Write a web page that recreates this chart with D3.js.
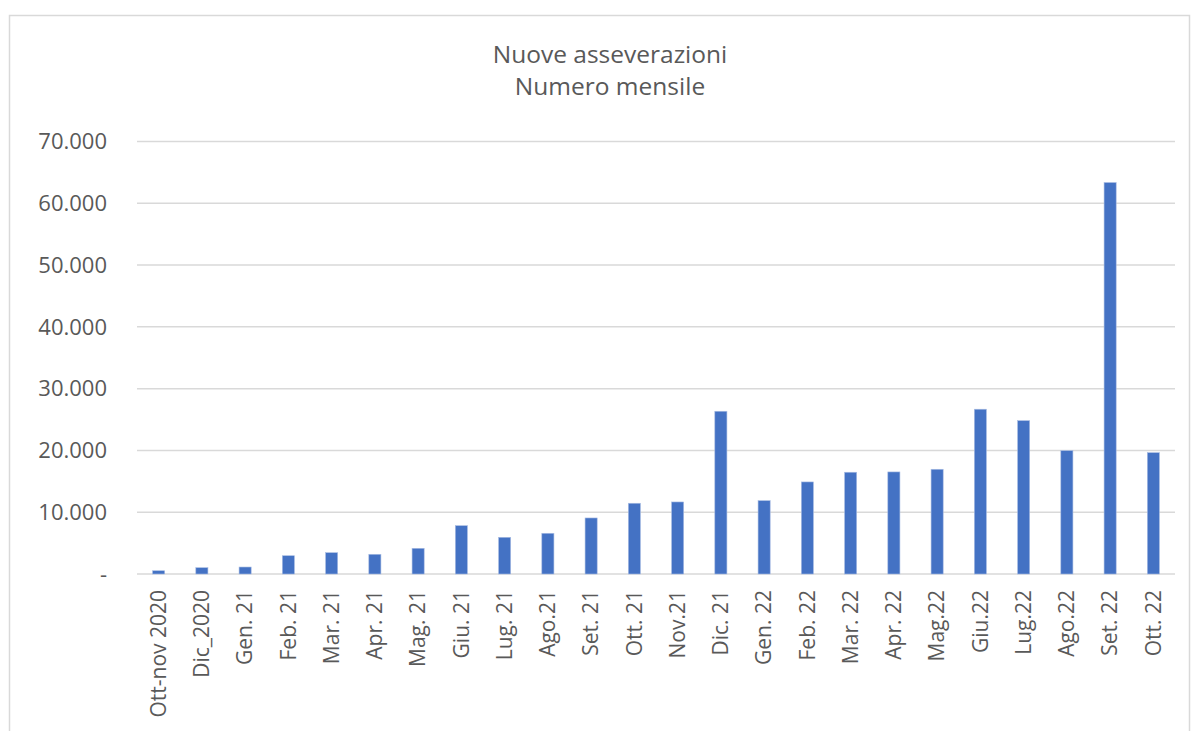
<!DOCTYPE html>
<html>
<head>
<meta charset="utf-8">
<script src="https://cdn.jsdelivr.net/npm/d3@7"></script>
<style>
  body { margin: 0; background: #fff; }
  text { font-family: "Open Sans", sans-serif; fill: #595959; }
</style>
</head>
<body>
<svg width="1198" height="731"></svg>
<script>
// months (as labelled on the original chart)
var categories = ["Ott-nov 2020", "Dic_2020", "Gen. 21", "Feb. 21", "Mar. 21", "Apr. 21",
    "Mag. 21", "Giu. 21", "Lug. 21", "Ago.21", "Set. 21", "Ott. 21", "Nov.21", "Dic. 21",
    "Gen. 22", "Feb. 22", "Mar. 22", "Apr. 22", "Mag.22", "Giu.22", "Lug.22", "Ago.22",
    "Set. 22", "Ott. 22"];

// new asseverazioni per month
var values = [530, 1020, 1130, 2960, 3450, 3190, 4160, 7820, 5940, 6590, 9070, 11450,
    11660, 26340, 11870, 14900, 16470, 16520, 16950, 26670, 24820, 19960, 63360, 19640];

var yTicks = [0, 10000, 20000, 30000, 40000, 50000, 60000, 70000];
var titleLines = ["Nuove asseverazioni", "Numero mensile"];

var svg = d3.select("svg"),
    width = +svg.attr("width"),
    height = +svg.attr("height");

// outer frame
svg.append("rect")
    .attr("x", 9.5)
    .attr("y", 15.5)
    .attr("width", 1180)
    .attr("height", 740)
    .attr("fill", "none")
    .attr("stroke", "#d9d9d9")
    .attr("stroke-width", 1.5);

var x = d3.scaleBand()
    .domain(categories)
    .range([137, 1175])
    .paddingInner(0.72)
    .paddingOuter(0.36);

var y = d3.scaleLinear()
    .domain([0, 70000])
    .range([574, 141.5]);

var fmt = function(d) {
    return d == 0 ? "-" : d3.format(",")(d).replace(/,/g, ".");
};

// grid
svg.append("g")
    .selectAll("line")
    .data(yTicks)
    .enter().append("line")
    .attr("x1", 137)
    .attr("x2", 1175)
    .attr("y1", function(d) { return y(d); })
    .attr("y2", function(d) { return y(d); })
    .attr("stroke", "#d9d9d9")
    .attr("stroke-width", 1.5);

// y labels
svg.append("g")
    .selectAll("text")
    .data(yTicks)
    .enter().append("text")
    .attr("x", 107)
    .attr("y", function(d) { return y(d); })
    .attr("dy", "0.35em")
    .attr("text-anchor", "end")
    .attr("font-size", 22)
    .text(fmt);

// bars
svg.append("g")
    .selectAll("rect")
    .data(values)
    .enter().append("rect")
    .attr("x", function(d, i) { return x(categories[i]); })
    .attr("y", function(d) { return y(d); })
    .attr("width", x.bandwidth())
    .attr("height", function(d) { return y(0) - y(d); })
    .attr("fill", "#4472c4")
    .attr("stroke", "#a9bde3")
    .attr("stroke-width", 0.6);

// x labels, rotated
svg.append("g")
    .selectAll("text")
    .data(categories)
    .enter().append("text")
    .attr("transform", function(d) {
        return "translate(" + (x(d) + x.bandwidth() / 2) + ",590) rotate(-90)";
    })
    .attr("dy", "0.35em")
    .attr("text-anchor", "end")
    .attr("font-size", 21)
    .text(function(d) { return d; });

// title
svg.append("g")
    .selectAll("text")
    .data(titleLines)
    .enter().append("text")
    .attr("x", 610)
    .attr("y", function(d, i) { return 63 + i * 32; })
    .attr("text-anchor", "middle")
    .attr("font-size", 24.5)
    .text(function(d) { return d; });
</script>
</body>
</html>
